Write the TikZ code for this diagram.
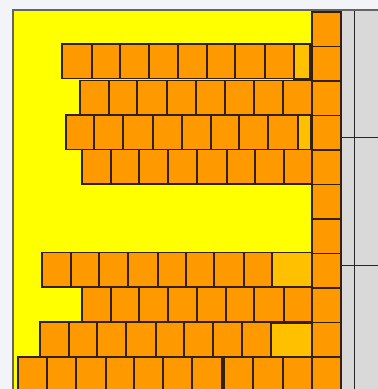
\documentclass[tikz,border=0pt]{standalone}
\usepackage{tikz}
\definecolor{pagebg}{RGB}{242,244,247}
\definecolor{wallyellow}{RGB}{255,255,0}
\definecolor{brickorange}{RGB}{255,153,0}
\definecolor{cutgold}{RGB}{255,192,0}
\definecolor{mortar}{RGB}{52,32,6}
\definecolor{panelgray}{RGB}{217,217,217}
\definecolor{frameline}{RGB}{100,100,100}
\tikzset{
  brick/.style={draw=mortar, fill=brickorange, line width=1.1pt},
  cutbrick/.style={brick, fill=cutgold},
  panel/.style={draw=black!85, line width=0.8pt}
}
% one course of bricks: #1 top edge, #2 list of left/right pairs
\newcommand{\brickrow}[2]{%
  \foreach \xa/\xb in {#2} \draw[brick] (\xa,#1) rectangle (\xb,#1+34.5);}

\begin{document}
\begin{tikzpicture}[x=1pt,y=-1pt]
  \useasboundingbox (0,0) rectangle (378,389);
  \fill[pagebg] (0,0) rectangle (378,389);
  \fill[wallyellow] (13,10) rectangle (312,389);
  \draw[frameline, line width=1.2pt] (13,389) -- (13,10) -- (378,10);
  % side panel
  \fill[panelgray] (341,10.6) rectangle (378,389);
  \draw[panel] (341,10.6) -- (341,389);
  \draw[panel] (354,10.6) -- (354,389);
  \draw[panel] (341,137) -- (378,137);
  \draw[panel] (341,265) -- (378,265);
  % end column
  \foreach \y in {12,46.5,81,115.5,150,184.5,219,253.5,288,322.5,357}
    \draw[brick] (312,\y) rectangle ++(29,34.5);
  % upper courses
  \brickrow{44}{62/92,92/120,120/149,149/178,178/207,207/235,235/265,265/294}
  \draw[cutbrick] (294,44) rectangle (310,79);
  \brickrow{80.5}{80/109,109/137,137/167,167/196,196/225,225/254,254/283,283/312}
  \brickrow{115}{66/94,94/123,123/153,153/182,182/211,211/239,239/268,268/298}
  \draw[cutbrick] (298,115) rectangle (311,149.5);
  \brickrow{149.5}{82/111,111/139,139/168,168/197,197/227,227/255,255/284,284/312}
  % lower courses
  \brickrow{252.5}{42/71,71/99,99/128,128/158,158/186,186/214,214/244,244/272}
  \draw[cutbrick] (272,252.5) rectangle (312,287);
  \brickrow{287.5}{82/111,111/139,139/168,168/197,197/226,226/254,254/284,284/312}
  \brickrow{322}{40/69,69/97,97/126,126/156,156/184,184/213,213/242,242/271}
  \draw[cutbrick] (271,323.5) rectangle (312,358);
  \brickrow{357}{18/47,47/76,76/106,106/134,134/163,163/192,192/222,224/253,253/283,283/312}
  \draw[cutbrick] (222,357) rectangle (224,391.5);
\end{tikzpicture}
\end{document}
